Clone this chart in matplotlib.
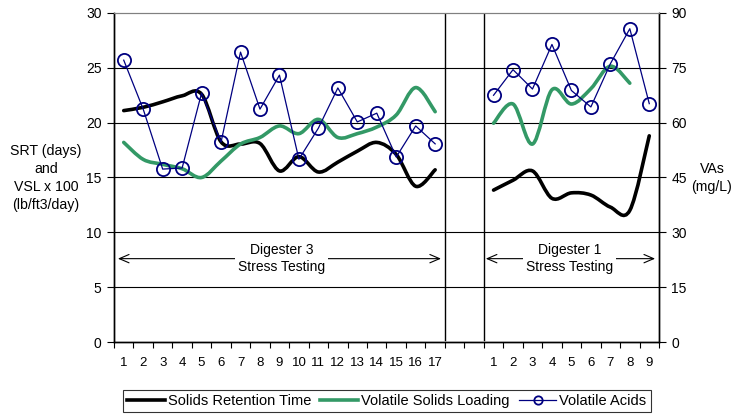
import matplotlib.pyplot as plt
import numpy as np
from matplotlib.path import Path
from matplotlib.patches import PathPatch
from matplotlib.lines import Line2D

plt.rcParams['font.family'] = ['Liberation Sans', 'DejaVu Sans']

# data (days of each stress test)
d3_days = list(range(1, 18))
d1_days = list(range(1, 10))

srt_d3 = [21.1, 21.4, 21.9, 22.45, 22.6, 18.25, 18.05, 18.1, 15.6, 16.9, 15.5, 16.4, 17.4, 18.2, 17.1, 14.2, 15.7]
vsl_d3 = [18.2, 16.65, 16.2, 15.8, 15.0, 16.5, 18.05, 18.65, 19.7, 19.0, 20.3, 18.65, 19.0, 19.6, 20.7, 23.2, 21.0]
va_d3 = [77.1, 63.7, 47.3, 47.6, 68.1, 54.7, 79.3, 63.7, 73.0, 50.0, 58.5, 69.5, 60.2, 62.6, 50.6, 59.1, 54.2]

srt_d1 = [13.85, 14.75, 15.6, 13.1, 13.6, 13.4, 12.3, 12.0, 18.8]
vsl_d1 = [19.95, 21.7, 18.05, 23.0, 21.7, 23.1, 25.15, 23.6]
va_d1 = [67.5, 74.5, 69.2, 81.4, 68.8, 64.3, 76.1, 85.7, 65.2]

x_d3 = np.arange(len(d3_days))
x_d1 = np.arange(len(d1_days)) + len(d3_days) + 2
n_slots = len(d3_days) + 2 + len(d1_days)

black = '#000000'
green = '#339966'
navy = '#000080'


def smooth_path(x, y):
    # Excel-style smoothed line: bezier segments through every point
    pts = np.column_stack([x, y]).astype(float)
    n = len(pts)
    verts = [pts[0]]
    codes = [Path.MOVETO]
    for i in range(n - 1):
        p0 = pts[max(i - 1, 0)]
        p1 = pts[i]
        p2 = pts[i + 1]
        p3 = pts[min(i + 2, n - 1)]
        verts += [p1 + (p2 - p0) / 6, p2 - (p3 - p1) / 6, p2]
        codes += [Path.CURVE4] * 3
    return Path(verts, codes)


fig = plt.figure(figsize=(7.34, 4.15), dpi=100)
ax = fig.add_axes([114 / 734, 1 - 342 / 415, 545 / 734, 329 / 415])
ax2 = ax.twinx()

ax.set_xlim(-0.5, n_slots - 0.5)
ax.set_ylim(0, 30)
ax2.set_ylim(0, 90)
ax.set_yticks(range(0, 31, 5))
ax2.set_yticks(range(0, 91, 15))

for yv in range(5, 30, 5):
    ax.axhline(yv, color='black', lw=0.8, zorder=0)
for xv in [len(d3_days) - 0.5, len(d3_days) + 1.5]:
    ax.plot([xv, xv], [0.2, 30], color='black', lw=1.0, zorder=1)

for xs, ys, col in [(x_d3, srt_d3, black), (x_d1, srt_d1, black),
                    (x_d3, vsl_d3, green), (x_d1[:len(vsl_d1)], vsl_d1, green)]:
    ax.add_patch(PathPatch(smooth_path(xs, ys), fill=False, edgecolor=col,
                           lw=2.6, capstyle='round', joinstyle='round', zorder=3))

for xs, ys in [(x_d3, va_d3), (x_d1, va_d1)]:
    ax2.plot(xs, ys, color=navy, lw=0.9, marker='o', ms=9.5, mfc='none',
             mec=navy, mew=1.3, zorder=4)

# x axis: labels at slot centres, small ticks at slot edges
labels = [str(d) for d in d3_days] + ['', ''] + [str(d) for d in d1_days]
ax.set_xticks(np.arange(n_slots))
ax.set_xticklabels(labels, fontsize=9.5)
ax.set_xticks(np.arange(n_slots + 1) - 0.5, minor=True)
ax.tick_params(axis='x', which='major', length=0, pad=11)
ax.tick_params(axis='x', which='minor', length=4, direction='out', width=0.8)
ax.tick_params(axis='y', length=5, width=0.8, labelsize=10, pad=4)
ax2.tick_params(axis='y', length=5, width=0.8, labelsize=10, pad=4)

for a in (ax, ax2):
    a.spines['top'].set_color('#808080')
    a.spines['top'].set_linewidth(0.8)
    for s in ('left', 'right', 'bottom'):
        a.spines[s].set_linewidth(1.0)

# stress-testing spans
for x0, x1, xt, label in [(-0.3, 16.3, 8.1, 'Digester 3\nStress Testing'),
                          (18.6, 27.3, 22.9, 'Digester 1\nStress Testing')]:
    ax.annotate('', xy=(x1, 7.6), xytext=(x0, 7.6),
                arrowprops=dict(arrowstyle='<->,head_length=0.7,head_width=0.3',
                                lw=0.8, color='black', shrinkA=0, shrinkB=0))
    ax.text(xt, 7.6, label, ha='center', va='center', fontsize=10,
            linespacing=1.3, bbox=dict(facecolor='white', edgecolor='none', pad=2))

fig.text(46 / 734, 1 - 178 / 415, 'SRT (days)\nand\nVSL x 100\n(lb/ft3/day)',
         ha='center', va='center', fontsize=10.2, linespacing=1.35)
fig.text(712 / 734, 1 - 178 / 415, 'VAs\n(mg/L)', ha='center', va='center',
         fontsize=10.2, linespacing=1.35)

handles = [Line2D([], [], color=black, lw=2.6),
           Line2D([], [], color=green, lw=2.6),
           Line2D([], [], color=navy, lw=0.9, marker='o', ms=6, mfc='none', mew=1.3)]
leg = fig.legend(handles, ['Solids Retention Time', 'Volatile Solids Loading', 'Volatile Acids'],
                 loc='center', bbox_to_anchor=(387 / 734, 1 - 401 / 415), ncol=3,
                 fontsize=10.5, frameon=True, fancybox=False, handlelength=2.6,
                 handletextpad=0.2, columnspacing=0.6, borderpad=0.3, borderaxespad=0)
leg.get_frame().set_edgecolor('black')
leg.get_frame().set_linewidth(0.8)

fig.savefig('out.png', dpi=100)
